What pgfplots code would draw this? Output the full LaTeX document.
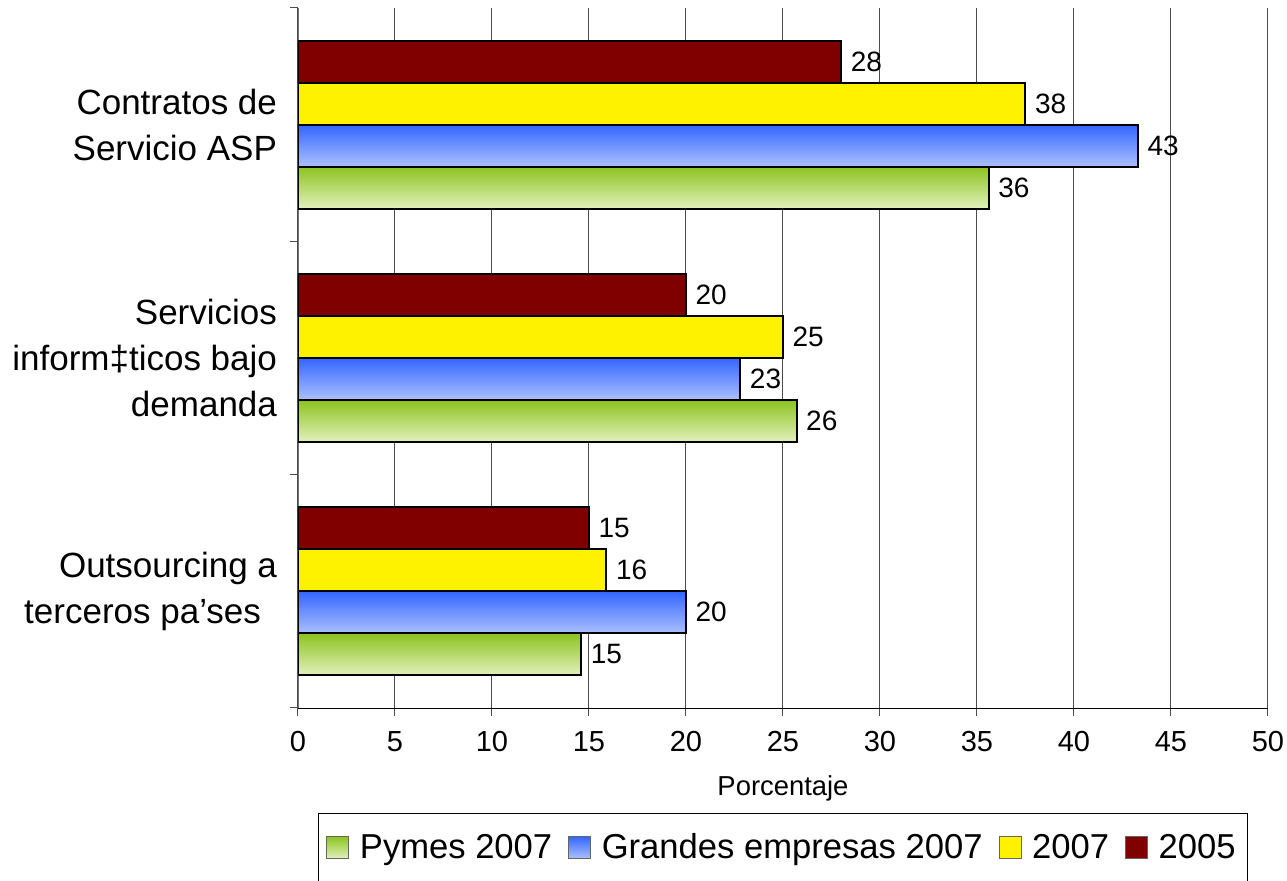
\documentclass[border=0pt]{standalone}
\usepackage{pgfplots}
\pgfplotsset{compat=1.18}
\usepackage{fontspec}
\setmainfont{Liberation Sans}

\definecolor{c2005}{RGB}{128,0,0}
\definecolor{c2007}{RGB}{255,242,0}
\definecolor{bluetop}{RGB}{51,102,255}
\definecolor{bluebot}{RGB}{172,192,255}
\definecolor{greentop}{RGB}{140,195,30}
\definecolor{greenbot}{RGB}{226,241,188}

\pgfplotsset{
  pymes/.style={bar shift=-0.27, top color=greentop, middle color=greenbot!60!greentop, bottom color=greenbot},
  grandes/.style={bar shift=-0.09, top color=bluetop, middle color=bluebot, bottom color=bluebot},
}

\begin{document}
\begin{tikzpicture}
\begin{axis}[
  scale only axis, width=485pt, height=350pt,
  xbar, bar width=0.18,
  xmin=0, xmax=50, xtick distance=5,
  ymin=-0.5, ymax=2.5,
  ytick={-0.5,0.5,1.5,2.5}, yticklabels={},
  extra y ticks={0,1,2},
  extra y tick labels={{Outsourcing a\\terceros pa’ses\hspace*{8pt}},{Servicios\\inform‡ticos bajo\\demanda},{Contratos de\\Servicio ASP}},
  extra y tick style={major tick length=0pt},
  axis x line*=bottom, axis y line*=left,
  axis line style={-},
  x axis line style={black},
  y axis line style={black!55},
  tick align=outside, major tick length=4pt,
  tick style={black!70, line width=0.5pt},
  xmajorgrids, grid style={black!70, line width=0.5pt},
  /pgf/number format/assume math mode=true,
  xticklabel style={font=\fontsize{14.5}{17}\selectfont, yshift=-4pt},
  yticklabel style={font=\fontsize{17.5}{23}\selectfont, align=right, xshift=-7pt},
  xlabel={Porcentaje},
  xlabel style={font=\fontsize{13.7}{16}\selectfont, at={(axis description cs:0.5,-0.1143)}, anchor=center},
  nodes near coords, point meta=explicit symbolic,
  nodes near coords style={font=\fontsize{14}{16}\selectfont, black, anchor=west, xshift=1pt},
  every axis plot/.append style={draw=black, line width=1pt},
  legend columns=4,
  legend style={at={(0.5,-0.15)}, anchor=north, draw=black, line width=0.5pt,
    font=\fontsize{17.3}{20}\selectfont, inner xsep=4pt, inner ysep=8pt,
    /tikz/every even column/.append style={column sep=6pt}},
  legend image code/.code={\draw[#1, line width=0.5pt, draw=black!60] (0pt,-5.5pt) rectangle (11pt,5.5pt); \path (14pt,0pt);},
]
% Pymes 2007 (one plot per bar so each bar gets its own gradient)
\addplot[pymes] coordinates {(14.6,0) [15]};
\addplot[pymes, forget plot] coordinates {(25.7,1) [26]};
\addplot[pymes, forget plot] coordinates {(35.6,2) [36]};
% Grandes empresas 2007
\addplot[grandes] coordinates {(20.0,0) [20]};
\addplot[grandes, forget plot] coordinates {(22.8,1) [23]};
\addplot[grandes, forget plot] coordinates {(43.3,2) [43]};
% 2007
\addplot[bar shift=0.09, fill=c2007]
  coordinates {(15.9,0) [16] (25.0,1) [25] (37.5,2) [38]};
% 2005
\addplot[bar shift=0.27, fill=c2005]
  coordinates {(15.0,0) [15] (20.0,1) [20] (28.0,2) [28]};
\legend{Pymes 2007, Grandes empresas 2007, 2007, 2005}
\end{axis}
\pgfresetboundingbox
\path[use as bounding box] (-149pt,-86.5pt) rectangle (494.5pt,354pt);
\end{tikzpicture}
\end{document}
